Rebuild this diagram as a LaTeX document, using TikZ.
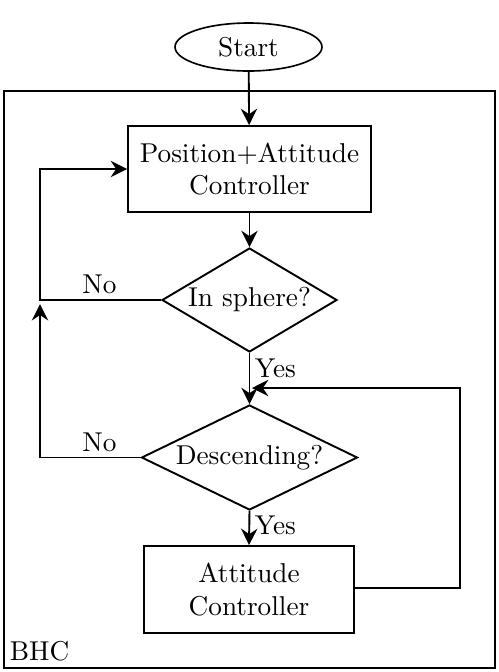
\documentclass[tikz,border=0pt]{standalone}
\usetikzlibrary{shapes.geometric,arrows.meta}
\begin{document}
\begin{tikzpicture}[x=0.367pt,y=-0.367pt,
  line width=0.7pt,
  arr/.style={-{Stealth[length=6pt,width=6pt,inset=2pt]}, line width=0.7pt},
  boxst/.style={draw, rectangle, inner sep=0pt, align=center, line width=0.7pt},
  decst/.style={draw, diamond, inner sep=0pt, align=center, line width=0.7pt},
  lbl/.style={inner sep=0pt}]
\useasboundingbox (0,0) rectangle (498,672);
% outer frame
\draw[line width=0.7pt] (4,91) rectangle (495,668);
\node[lbl, anchor=south west] (bhc) at (9,662) {BHC};
% nodes
\node[draw, ellipse, inner sep=0pt, minimum width={147*0.367pt}, minimum height={48*0.367pt}, line width=0.6pt] (start) at (248.5,47) {Start};
\node[boxst, minimum width={243*0.367pt}, minimum height={86*0.367pt}] (pac) at (249.5,169) {Position+Attitude\\Controller};
\node[decst, shape aspect=1.68, minimum width={175*0.367pt}, minimum height={104*0.367pt}] (d1) at (249.5,300) {In sphere?};
\node[decst, shape aspect=2.06, minimum width={216*0.367pt}, minimum height={105*0.367pt}] (d2) at (249.5,457.5) {Descending?};
\node[boxst, minimum width={210*0.367pt}, minimum height={87*0.367pt}] (ac) at (249,589.5) {Attitude\\Controller};
% helper coordinates
\coordinate (L1) at (40,300);
\coordinate (R1) at (460,588);
\coordinate (J) at (252,388);
% connectors
\draw[arr] (start) -- (pac);
\draw[arr] (d1.west) -- (L1) |- (pac.west);
\node[lbl] (no1) at (99.5,284) {No};
\draw[arr] (pac) -- (d1);
\draw[arr] (d1.south) -- (d2.north);
\node[lbl, anchor=west] (yes1) at (254,368) {Yes};
\draw[arr, shorten >=1.5pt] (d2.west) -| (L1);
\node[lbl] (no2) at (99.5,442) {No};
\draw[arr] (d2.south) -- (ac.north);
\node[lbl, anchor=west] (yes2) at (254,525) {Yes};
\draw[arr] (ac.east |- R1) -- (R1) |- (J);
\end{tikzpicture}
\end{document}
